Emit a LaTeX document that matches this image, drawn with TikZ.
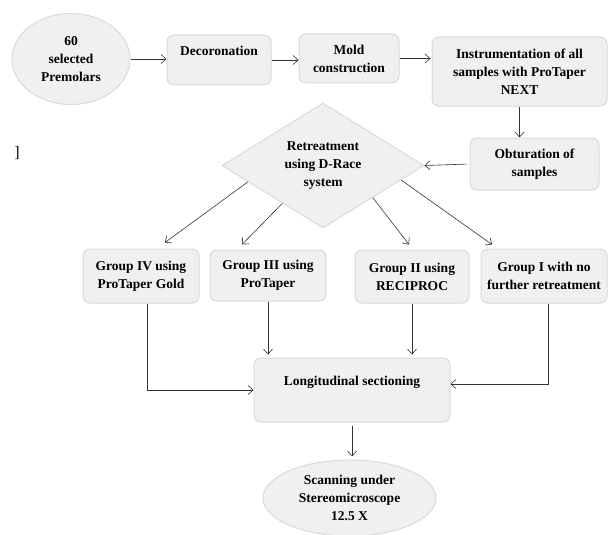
\documentclass[tikz,border=0pt]{standalone}
\usepackage{fontspec}
\setmainfont{Liberation Serif}
\usetikzlibrary{arrows.meta,positioning,calc,shapes.geometric}
\definecolor{boxfill}{HTML}{F0F0F0}
\definecolor{boxline}{HTML}{DADADA}
\definecolor{linkcol}{HTML}{333333}

\begin{document}
\begin{tikzpicture}[x=1pt, y=-1pt,
  every node/.style={font=\bfseries\fontsize{13.5}{18}\selectfont, align=center},
  box/.style={draw=boxline, fill=boxfill, line width=1pt, rounded corners=7pt, inner sep=0pt},
  oval/.style={draw=boxline, fill=boxfill, line width=1pt, ellipse, inner sep=0pt},
  decision/.style={draw=boxline, fill=boxfill, line width=1pt, diamond, inner sep=0pt},
  arrow/.style={-{Straight Barb[length=5pt,width=9pt]}, linkcol, line width=0.6pt}
]
\useasboundingbox (0,0) rectangle (608,535);

% top row
\node[oval, minimum width=118pt, minimum height=91pt] (teeth) at (71,59) {60\\selected\\Premolars};
\node[box, minimum width=104pt, minimum height=50pt] (decor) at (219,60) {Decoronation\\\mbox{}};
\node[box, minimum width=100pt, minimum height=49pt] (mold) at (349,58.5) {Mold\\construction};
\node[box, minimum width=175pt, minimum height=69pt] (instr) at (519.5,71.5) {Instrumentation of all\\samples with ProTaper\\NEXT};
\node[box, minimum width=129pt, minimum height=52pt] (obtur) at (534.5,164) {Obturation of\\samples};
\node[decision, minimum width=202pt, minimum height=125pt] (retreat) at (323,165.5) {Retreatment\\using D-Race\\system};
\node[font=\fontsize{16}{16}\selectfont] (mark) at (17,153) {]};

% groups
\node[box, minimum width=116pt, minimum height=54pt] (grpIV) at (141,276) {Group IV using\\ProTaper Gold};
\node[box, minimum width=116pt, minimum height=51pt] (grpIII) at (268,275.5) {Group III using\\ProTaper};
\node[box, minimum width=114pt, minimum height=53pt] (grpII) at (412,276.5) {Group II using\\RECIPROC};
\node[box, minimum width=126pt, minimum height=54pt] (grpI) at (544,276) {Group I with no\\further retreatment};

% bottom
\node[box, minimum width=196pt, minimum height=64pt] (section) at (352,390) {Longitudinal sectioning\\\mbox{}};
\node[oval, minimum width=173pt, minimum height=76pt] (scan) at (349.5,498) {Scanning under\\Stereomicroscope\\12.5 X};

\draw[arrow] (teeth.east) -- (teeth.east -| decor.west);
\draw[arrow] (decor.east) -- (decor.east -| mold.west);
\draw[arrow, shorten >=1pt] (mold.east) -- (mold.east -| instr.west);
\draw[arrow] (instr.south) -- (instr.south |- obtur.north);
\draw[arrow, shorten <=3pt] (obtur.west) -- (retreat.east);

\draw[arrow] ($(retreat.west)!0.26!(retreat.south)$) -- ([xshift=24pt,yshift=6pt]grpIV.north);
\draw[arrow] ($(retreat.west)!0.6!(retreat.south)$) -- ([xshift=-26pt,yshift=5pt]grpIII.north);
\draw[arrow] ($(retreat.east)!0.51!(retreat.south)$) -- ([xshift=-3pt,yshift=5pt]grpII.north);
\draw[arrow] ($(retreat.east)!0.23!(retreat.south)$) -- ([xshift=-52pt,yshift=4pt]grpI.north);

\draw[arrow] ([xshift=6pt]grpIV.south) |- (section.west);
\draw[arrow, shorten >=3pt] (grpIII.south) -- (grpIII.south |- section.north);
\draw[arrow, shorten >=3pt] (grpII.south) -- (grpII.south |- section.north);
\draw[arrow] ([xshift=4pt]grpI.south) |- ([yshift=6pt]section.east);
\draw[arrow, shorten <=3pt, shorten >=3pt] (section.south) -- (section.south |- scan.north);

\end{tikzpicture}
\end{document}
